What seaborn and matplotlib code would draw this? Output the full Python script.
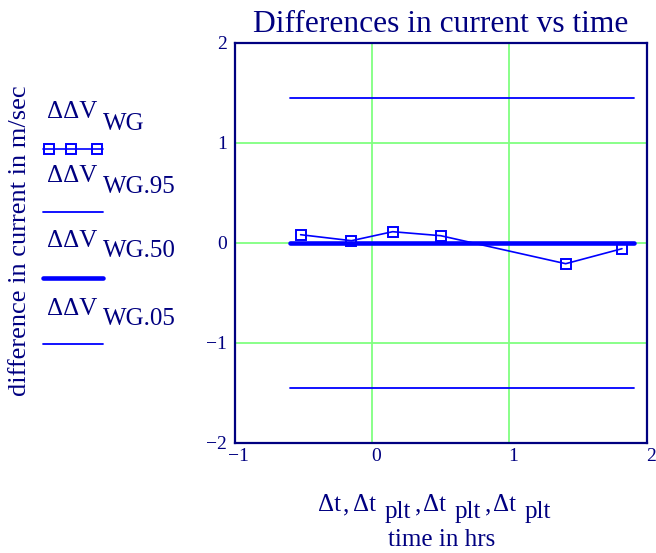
import matplotlib
matplotlib.use("Agg")
import numpy as np
import pandas as pd
import seaborn as sns
import matplotlib.pyplot as plt
from matplotlib.lines import Line2D
from matplotlib.transforms import ScaledTranslation

# ---- data ----
t = [-0.52, -0.15, 0.15, 0.50, 1.41, 1.82]
dV_WG = [0.08, 0.02, 0.11, 0.07, -0.21, -0.06]
t_plt = [-0.60, 1.91]
dV_WG95 = [1.45, 1.45]
dV_WG50 = [0.0, 0.0]
dV_WG05 = [-1.45, -1.45]

x_ticks = [-1, 0, 1, 2]
y_ticks = [-2, -1, 0, 1, 2]

title = "Differences in current vs time"
ylabel = "difference in current in m/sec"
xlabel2 = "time in hrs"

NAVY = "#000080"
BLUE = "#0000ff"
GREEN = "#80ff80"

sns.set_theme(style="white")
plt.rcParams["font.family"] = ["Liberation Serif", "DejaVu Serif"]
plt.rcParams["axes.unicode_minus"] = True

W, H = 656, 553
fig = plt.figure(figsize=(W / 100, H / 100), dpi=100)
fig.patch.set_facecolor("white")


def fx(px):
    return px / W


def fy(py):
    return 1 - py / H


ax = fig.add_axes([fx(234.7), fy(442.7), 412 / W, 400 / H])
ax.set_facecolor("white")

# grid
ax.set_xlim(-1, 2)
ax.set_ylim(-2, 2)
ax.set_xticks(x_ticks)
ax.set_yticks(y_ticks)
ax.grid(True, color=GREEN, lw=1.3)
ax.set_axisbelow(True)

# series
sns.lineplot(x=t_plt, y=dV_WG95, ax=ax, color=BLUE, lw=1.3, zorder=3)
sns.lineplot(x=t_plt, y=dV_WG05, ax=ax, color=BLUE, lw=1.3, zorder=3)
sns.lineplot(x=t_plt, y=dV_WG50, ax=ax, color=BLUE, lw=3.3, zorder=3,
             solid_capstyle="round")
sns.lineplot(x=t, y=dV_WG, ax=ax, color=BLUE, lw=1.2, marker="s",
             markersize=7.6, markerfacecolor="none", markeredgecolor=BLUE,
             markeredgewidth=1.4, zorder=4)

for s in ax.spines.values():
    s.set_color(NAVY)
    s.set_linewidth(1.6)
    s.set_zorder(5)

ax.tick_params(axis="both", length=0, colors=NAVY, labelsize=14)
ax.tick_params(axis="x", pad=3.5)
ax.tick_params(axis="y", pad=5.5)
ax.set_xticklabels([f"{v}".replace("-", "\u2212") for v in x_ticks])
ax.set_yticklabels([f"{v}".replace("-", "\u2212") for v in y_ticks])
for lab in ax.get_xticklabels():
    lab.set_transform(lab.get_transform() + ScaledTranslation(0.04, 0, fig.dpi_scale_trans))
ax.set_xlabel("")
ax.set_ylabel("")

# title
fig.text(fx(440.8), fy(32), title, ha="center", va="baseline",
         fontsize=22.7, color=NAVY)

# y label
fig.text(fx(20), fy(241), ylabel, rotation=90, ha="center", va="center",
         fontsize=19, color=NAVY)

# x label pieces (main text and lowered subscripts)
xl_fs = 18
base1 = 511
sub1 = 518
pieces = [("\u0394t", 318, base1), (",", 343, base1), ("\u0394t", 353, base1),
          ("plt", 385, sub1), (",", 415, base1), ("\u0394t", 423, base1),
          ("plt", 455, sub1), (",", 485, base1), ("\u0394t", 493, base1),
          ("plt", 525, sub1)]
for txt, px, py in pieces:
    fig.text(fx(px), fy(py), txt, ha="left", va="baseline", fontsize=xl_fs,
             color=NAVY)
fig.text(fx(442), fy(546), xlabel2, ha="center", va="baseline",
         fontsize=xl_fs, color=NAVY)

# legend (label above sample, Mathcad style)
leg_fs = 18
entries = [("WG", 118, 130, 149, dict(lw=1.2, marker="s")),
           ("WG.95", 182, 193, 212, dict(lw=1.3)),
           ("WG.50", 247, 257, 278, dict(lw=3.3)),
           ("WG.05", 315, 325, 344, dict(lw=1.3))]
for sub, yb, ys, yl, style in entries:
    fig.text(fx(47), fy(yb), "\u0394\u0394V", ha="left", va="baseline",
             fontsize=leg_fs, color=NAVY)
    fig.text(fx(103), fy(ys), sub, ha="left", va="baseline",
             fontsize=leg_fs, color=NAVY)
    if "marker" in style:
        xs = [43, 49, 71, 97, 103]
        ln = Line2D([fx(v) for v in xs], [fy(yl)] * len(xs),
                    transform=fig.transFigure, color=BLUE, lw=style["lw"],
                    marker="s", markersize=7.6, markerfacecolor="none",
                    markeredgecolor=BLUE, markeredgewidth=1.4,
                    markevery=[1, 2, 3])
    else:
        ln = Line2D([fx(43), fx(103)], [fy(yl)] * 2,
                    transform=fig.transFigure, color=BLUE, lw=style["lw"],
                    solid_capstyle="round")
    fig.add_artist(ln)

fig.savefig("out.png", dpi=100, facecolor="white")
